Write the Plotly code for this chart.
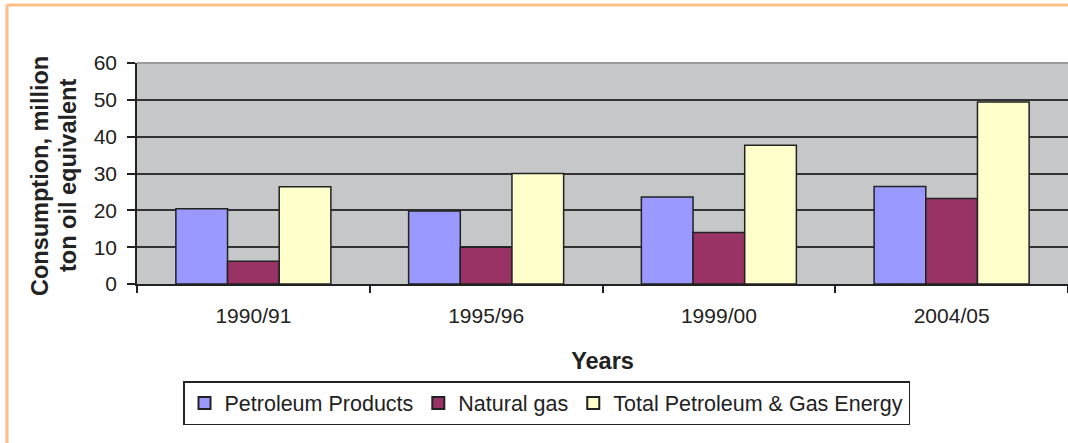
import plotly.graph_objects as go

# ---- data ----
years = ["1990/91", "1995/96", "1999/00", "2004/05"]
petroleum_products = [20.4, 19.8, 23.6, 26.5]
natural_gas = [6.2, 10.0, 14.0, 23.2]
total_energy = [26.4, 30.0, 37.7, 49.4]
series_names = ["Petroleum Products", "Natural gas", "Total Petroleum & Gas Energy"]
y_ticks = [0, 10, 20, 30, 40, 50, 60]
y_title_lines = ["Consumption, million", "ton oil equivalent"]

W, H = 1068, 443
L, R, T, B = 137, 0, 63, 159
PW, PH = W - L - R, H - T - B


def px_x(px):
    return (px - L) / PW


def px_y(py):
    return (H - B - py) / PH


colors = ["#9999FF", "#993366", "#FFFFCC"]
values = [petroleum_products, natural_gas, total_energy]

fig = go.Figure()
for name, vals, col in zip(series_names, values, colors):
    fig.add_trace(go.Bar(
        x=years, y=vals, name=name,
        marker=dict(color=col, line=dict(color="#222222", width=1.5)),
    ))

font_family = "Liberation Sans, Arial, sans-serif"

annotations = []
for line_text, xpos in zip(y_title_lines, [40, 68]):
    annotations.append(dict(
        text="<b>" + line_text + "</b>",
        xref="paper", yref="paper",
        x=px_x(xpos), y=px_y(176), xanchor="center", yanchor="middle",
        textangle=-90, showarrow=False,
        font=dict(size=23.5, color="#222222"),
    ))

fig.update_layout(
    width=W, height=H,
    margin=dict(l=L, r=R, t=T, b=B, autoexpand=False),
    paper_bgcolor="white",
    plot_bgcolor="#C6C7C9",
    barmode="group",
    bargap=0.334,
    bargroupgap=0,
    font=dict(family=font_family, size=21, color="#222222"),
    showlegend=True,
    legend=dict(
        orientation="h",
        x=px_x(183), xanchor="left",
        y=px_y(381), yanchor="top",
        bgcolor="white",
        bordercolor="#222222", borderwidth=1.5,
        font=dict(size=21.5, color="#222222"),
        traceorder="normal",
        itemsizing="constant",
    ),
    xaxis=dict(
        type="category",
        showline=True, linecolor="#222222", linewidth=2,
        ticks="outside", ticklen=7, tickcolor="#222222", tickwidth=1.5,
        tickson="boundaries",
        ticklabelstandoff=12,
        tickfont=dict(size=21),
        showgrid=False,
        title=dict(text="<b>Years</b>", font=dict(size=23.5), standoff=26),
    ),
    yaxis=dict(
        range=[0, 60],
        tickvals=y_ticks,
        showline=True, linecolor="#222222", linewidth=1.5,
        ticks="outside", ticklen=8, tickcolor="#222222", tickwidth=1.5,
        ticklabelstandoff=6,
        tickfont=dict(size=21),
        showgrid=True, gridcolor="#333333", gridwidth=1.5,
        zeroline=False,
    ),
    annotations=annotations,
    shapes=[
        # light top edge of plot area
        dict(type="line", xref="paper", yref="paper",
             x0=0, x1=1, y0=1, y1=1,
             line=dict(color="#9C9C9C", width=2), layer="above"),
        # orange frame (top and left)
        dict(type="line", xref="paper", yref="paper",
             x0=px_x(7), x1=px_x(W + 5), y0=px_y(5), y1=px_y(5),
             line=dict(color="#FDBE88", width=3)),
        dict(type="line", xref="paper", yref="paper",
             x0=px_x(7), x1=px_x(7), y0=px_y(5), y1=px_y(H + 5),
             line=dict(color="#FDBE88", width=3)),
    ],
)

fig.write_html(
    "out.html",
    config={"displayModeBar": False},
    post_script=(
        "document.body.style.margin='0';"
        "document.body.style.overflow='hidden';"
        "document.documentElement.style.overflow='hidden';"
    ),
)
